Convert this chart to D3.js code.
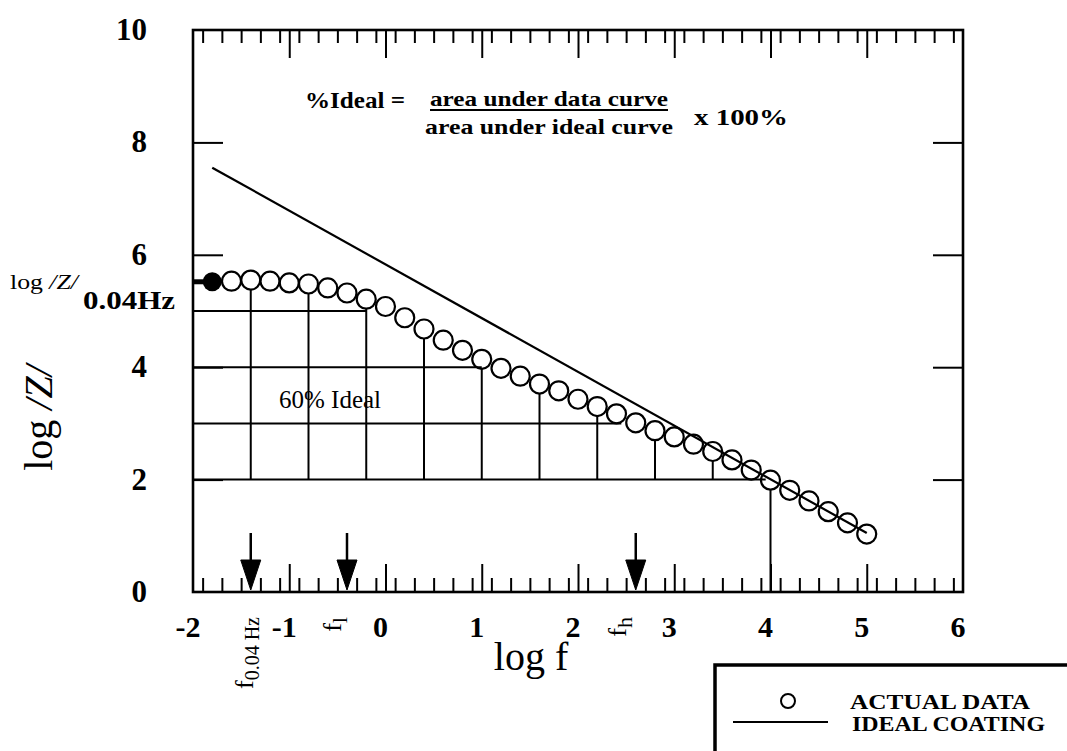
<!DOCTYPE html>
<html>
<head>
<meta charset="utf-8">
<script src="https://cdn.jsdelivr.net/npm/d3@7"></script>
<style>
  html, body { margin: 0; padding: 0; background: #fff; }
  svg { display: block; }
  text { font-family: "Liberation Serif", "Times New Roman", serif; fill: #000; }
</style>
</head>
<body>
<svg id="chart" width="1067" height="751"></svg>
<script>
// Impedance spectrum: log|Z| versus log f
const logF = [-1.8, -1.6, -1.4, -1.2, -1.0, -0.8, -0.6, -0.4, -0.2, 0.0,
              0.2, 0.4, 0.6, 0.8, 1.0, 1.2, 1.4, 1.6, 1.8, 2.0,
              2.2, 2.4, 2.6, 2.8, 3.0, 3.2, 3.4, 3.6, 3.8, 4.0,
              4.2, 4.4, 4.6, 4.8, 5.0];
const logZ = [5.52, 5.53, 5.55, 5.53, 5.50, 5.48, 5.41, 5.32, 5.21, 5.08,
              4.88, 4.68, 4.48, 4.30, 4.14, 3.98, 3.84, 3.70, 3.58, 3.43,
              3.30, 3.17, 3.01, 2.87, 2.76, 2.63, 2.50, 2.35, 2.17, 1.99,
              1.81, 1.62, 1.43, 1.23, 1.03];

// Ideal coating line (slope close to -1)
const idealF = [-1.8, 5.0];
const idealZ = [7.55, 1.05];

// Integration grid under the data curve
const gridLevels = [5, 4, 3, 2];
const gridLevelEnds = [-0.2, 1.0, 2.45, 3.95];
const gridColumns = [-1.4, -0.8, -0.2, 0.4, 1.0, 1.6, 2.2, 2.8, 3.4, 4.0];
const gridColumnBase = [2, 2, 2, 2, 2, 2, 2, 2, 2, 0];

// Marked frequencies on the x axis
const arrowF = [-1.4, -0.4, 2.6];
const arrowTop = 1.05;

const xTickLabels = [-2, -1, 0, 1, 2, 3, 4, 5, 6];
const yTickLabels = [0, 2, 4, 6, 8, 10];

const svg = d3.select("#chart");
const x = d3.scaleLinear().domain([-2, 6]).range([193, 963]);
const y = d3.scaleLinear().domain([0, 10]).range([592, 30]);
const R = 9.5;

// grid lines
const grid = svg.append("g").attr("stroke", "#000").attr("stroke-width", 2);
gridLevels.forEach((lv, i) => {
  grid.append("line")
    .attr("x1", x(-2)).attr("x2", x(gridLevelEnds[i]))
    .attr("y1", y(lv)).attr("y2", y(lv));
});
gridColumns.forEach((f, i) => {
  const k = logF.findIndex(v => Math.abs(v - f) < 1e-6);
  grid.append("line")
    .attr("x1", x(f)).attr("x2", x(f))
    .attr("y1", y(gridColumnBase[i])).attr("y2", y(logZ[k]) + R);
});

// ideal coating line
svg.append("line")
  .attr("x1", x(idealF[0])).attr("y1", y(idealZ[0]))
  .attr("x2", x(idealF[1])).attr("y2", y(idealZ[1]))
  .attr("stroke", "#000").attr("stroke-width", 2.2);

// data markers
const pts = logF.map((f, i) => ({ f, z: logZ[i] }));
svg.append("g").selectAll("circle")
  .data(pts.slice(1))
  .join("circle")
  .attr("cx", d => x(d.f)).attr("cy", d => y(d.z)).attr("r", R)
  .attr("fill", "none").attr("stroke", "#000").attr("stroke-width", 2.2);

// low-frequency reference point and its pointer to the axis
svg.append("line")
  .attr("x1", x(-2)).attr("x2", x(logF[0]))
  .attr("y1", y(logZ[0])).attr("y2", y(logZ[0]))
  .attr("stroke", "#000").attr("stroke-width", 5);
svg.append("circle")
  .attr("cx", x(logF[0])).attr("cy", y(logZ[0])).attr("r", R)
  .attr("fill", "#000");

// frame
svg.append("rect")
  .attr("x", x(-2)).attr("y", y(10))
  .attr("width", x(6) - x(-2)).attr("height", y(0) - y(10))
  .attr("fill", "none").attr("stroke", "#000").attr("stroke-width", 2.6);

// x ticks (bottom and top), minor every 0.2, major every 1
const minorX = d3.range(-19, 60, 2).map(v => v / 10).filter(v => Math.abs(v - Math.round(v)) > 1e-6);
const majorX = [-1, 0, 1, 2, 3, 4, 5];
const bottomAxis = svg.append("g").attr("transform", `translate(0,${y(0)})`);
bottomAxis.call(d3.axisBottom(x).tickValues(minorX).tickSize(-14).tickFormat(""));
bottomAxis.append("g").call(d3.axisBottom(x).tickValues(majorX).tickSize(-28).tickFormat(""));
const topAxis = svg.append("g").attr("transform", `translate(0,${y(10)})`);
topAxis.call(d3.axisTop(x).tickValues(minorX).tickSize(-13).tickFormat(""));
topAxis.append("g").call(d3.axisTop(x).tickValues(majorX).tickSize(-28).tickFormat(""));

// y ticks, left and right, pointing inward
const majorY = [2, 4, 6, 8];
svg.append("g").attr("transform", `translate(${x(-2)},0)`)
  .call(d3.axisLeft(y).tickValues(majorY).tickSize(-30).tickFormat(""));
svg.append("g").attr("transform", `translate(${x(6)},0)`)
  .call(d3.axisRight(y).tickValues(majorY).tickSize(-30).tickFormat(""));
svg.selectAll(".domain").remove();
svg.selectAll(".tick line").attr("stroke", "#000").attr("stroke-width", 2);

// tick labels
svg.append("g").selectAll("text").data(xTickLabels).join("text")
  .attr("x", d => x(d) - 5).attr("y", 637)
  .attr("text-anchor", "middle").attr("font-size", 30).attr("font-weight", "bold")
  .text(d => d);
svg.append("g").selectAll("text").data(yTickLabels).join("text")
  .attr("x", 147).attr("y", d => y(d) + 10)
  .attr("text-anchor", "end").attr("font-size", 31).attr("font-weight", "bold")
  .text(d => d);

// arrows marking f0.04Hz, fl, fh
const arrows = svg.append("g").attr("fill", "#000").attr("stroke", "#000");
arrowF.forEach(f => {
  const cx = x(f), yb = y(0) - 2, yt = y(arrowTop);
  arrows.append("line").attr("x1", cx).attr("x2", cx).attr("y1", yt).attr("y2", yb - 20)
    .attr("stroke-width", 2.5);
  arrows.append("path")
    .attr("d", `M${cx - 10},${yb - 30}L${cx + 10},${yb - 30}L${cx},${yb}Z`)
    .attr("stroke-width", 1);
});

// rotated frequency labels under the arrows
function freqLabel(f, sub, subSize, dx) {
  const t = svg.append("text")
    .attr("transform", `translate(${x(f) + dx},617) rotate(-90)`)
    .attr("text-anchor", "end").attr("font-size", 26);
  t.append("tspan").text("f");
  t.append("tspan").attr("dy", 6).attr("font-size", subSize).text(sub);
}
freqLabel(-1.4, "0.04 Hz", 20, 2);
freqLabel(-0.4, "l", 22, -6);
freqLabel(2.6, "h", 22, -10);

// axis titles
svg.append("text").attr("x", 531).attr("y", 670)
  .attr("text-anchor", "middle").attr("font-size", 40).text("log f");
const yTitle = svg.append("text")
  .attr("transform", "translate(52,418) rotate(-90)")
  .attr("text-anchor", "middle").attr("font-size", 40);
yTitle.append("tspan").text("log ");
yTitle.append("tspan").attr("font-style", "italic").text("/Z/");

// reference impedance label
const ref = svg.append("text").attr("x", 10).attr("y", 289).attr("font-size", 21)
  .attr("textLength", 68).attr("lengthAdjust", "spacingAndGlyphs");
ref.append("tspan").text("log ");
ref.append("tspan").attr("font-style", "italic").text("/Z/");
svg.append("text").attr("x", 83).attr("y", 309).attr("font-size", 26).attr("font-weight", "bold")
  .attr("textLength", 92).attr("lengthAdjust", "spacingAndGlyphs").text("0.04Hz");

// formula
svg.append("text").attr("x", 305).attr("y", 108).attr("font-size", 24).attr("font-weight", "bold")
  .attr("textLength", 100).attr("lengthAdjust", "spacingAndGlyphs").text("%Ideal =");
svg.append("text").attr("x", 549).attr("y", 106).attr("font-size", 22).attr("font-weight", "bold")
  .attr("text-anchor", "middle").attr("textLength", 238).attr("lengthAdjust", "spacingAndGlyphs")
  .text("area under data curve");
svg.append("line").attr("x1", 430).attr("x2", 668).attr("y1", 110).attr("y2", 110)
  .attr("stroke", "#000").attr("stroke-width", 2);
svg.append("text").attr("x", 549).attr("y", 134).attr("font-size", 22).attr("font-weight", "bold")
  .attr("text-anchor", "middle").attr("textLength", 248).attr("lengthAdjust", "spacingAndGlyphs")
  .text("area under ideal curve");
svg.append("text").attr("x", 694).attr("y", 125).attr("font-size", 24).attr("font-weight", "bold")
  .attr("textLength", 94).attr("lengthAdjust", "spacingAndGlyphs").text("x 100%");

svg.append("text").attr("x", 279).attr("y", 408).attr("font-size", 25).text("60% Ideal");

// legend
const lg = svg.append("g");
lg.append("rect").attr("x", 715).attr("y", 665).attr("width", 400).attr("height", 120)
  .attr("fill", "#fff").attr("stroke", "#000").attr("stroke-width", 3.5);
lg.append("circle").attr("cx", 788).attr("cy", 701).attr("r", 7)
  .attr("fill", "none").attr("stroke", "#000").attr("stroke-width", 2);
lg.append("line").attr("x1", 733).attr("x2", 828).attr("y1", 722).attr("y2", 722)
  .attr("stroke", "#000").attr("stroke-width", 2);
lg.append("text").attr("x", 850).attr("y", 709).attr("font-size", 20).attr("font-weight", "bold")
  .attr("textLength", 180).attr("lengthAdjust", "spacingAndGlyphs").text("ACTUAL DATA");
lg.append("text").attr("x", 852).attr("y", 731).attr("font-size", 20).attr("font-weight", "bold")
  .attr("textLength", 193).attr("lengthAdjust", "spacingAndGlyphs").text("IDEAL COATING");
</script>
</body>
</html>
